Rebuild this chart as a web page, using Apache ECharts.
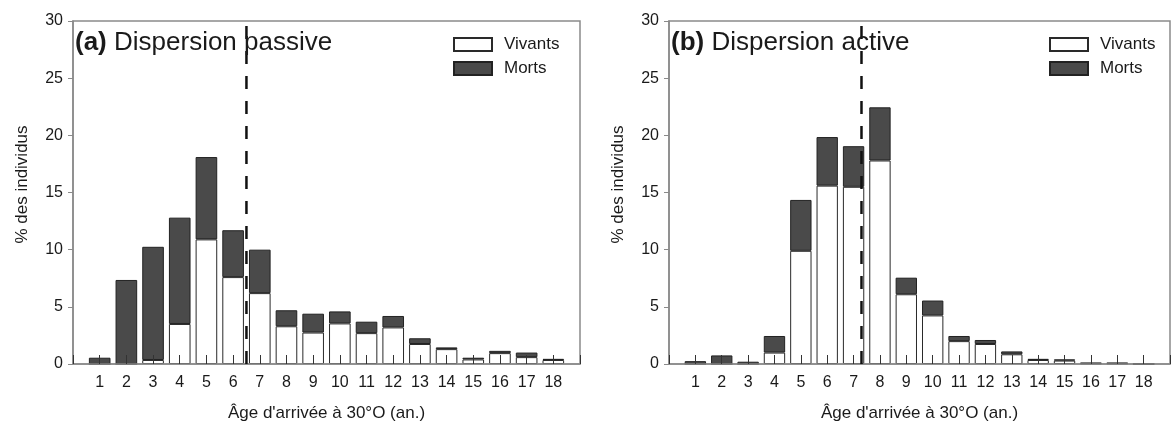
<!DOCTYPE html>
<html>
<head>
<meta charset="utf-8">
<script src="https://cdn.jsdelivr.net/npm/echarts@6/dist/echarts.min.js"></script>
<style>
  html, body { margin: 0; padding: 0; background: #fff; }
  #chart { width: 1173px; height: 427px; }
</style>
</head>
<body>
<div id="chart"></div>
<script>
// Age at arrival (years) on the 30°W line
const ages = [1, 2, 3, 4, 5, 6, 7, 8, 9, 10, 11, 12, 13, 14, 15, 16, 17, 18];

// (a) passive dispersal: % of individuals alive / dead
const vivantsA = [0, 0, 0.35, 3.5, 10.9, 7.6, 6.2, 3.3, 2.75, 3.55, 2.7, 3.2, 1.75, 1.3, 0.4, 0.95, 0.6, 0.35];
const mortsA   = [0.55, 7.35, 9.9, 9.3, 7.2, 4.1, 3.8, 1.4, 1.65, 1.05, 1.0, 1.0, 0.5, 0.15, 0.15, 0.2, 0.4, 0.1];

// (b) active dispersal
const vivantsB = [0, 0, 0, 1.0, 9.9, 15.6, 15.5, 17.8, 6.1, 4.25, 2.0, 1.75, 0.85, 0.35, 0.3, 0.05, 0.05, 0];
const mortsB   = [0.25, 0.75, 0.2, 1.45, 4.45, 4.25, 3.55, 4.65, 1.45, 1.3, 0.45, 0.35, 0.25, 0.1, 0.1, 0.05, 0.05, 0];

// Mean age thresholds (dashed lines)
const seuilA = 6.5;
const seuilB = 7.3;

const yTicks = [0, 5, 10, 15, 20, 25, 30];
const titres = ['Dispersion passive', 'Dispersion active'];
const lettres = ['(a)', '(b)'];
const nomX = "Âge d'arrivée à 30°O (an.)";
const nomY = '% des individus';

const FONT = '"Liberation Sans", Arial, sans-serif';
const INK = '#1a1a1a';
const FRAME = '#8a8a8a';

const grids = [
  { left: 73, top: 21, width: 507, height: 343 },
  { left: 669, top: 21, width: 507, height: 343 }
];

// Axis runs from 0 to 19 with an empty slot at each end
const xMin = 0, xMax = ages[ages.length - 1] + 1;
const cats = [String(xMin)].concat(ages.map(String), [String(xMax)]);
function padded(vals) { return [null].concat(vals, [null]); }

const yMax = yTicks[yTicks.length - 1];

const xAxes = [];
grids.forEach((g, i) => {
  // visible category axis carrying the bars
  xAxes.push({
    gridIndex: i, type: 'category', data: cats, boundaryGap: false, z: 3,
    name: nomX, nameLocation: 'middle', nameGap: 41,
    nameTextStyle: { fontFamily: FONT, fontSize: 17, color: INK },
    axisLine: { show: true, lineStyle: { color: FRAME, width: 1.5 } },
    axisTick: { show: true, inside: true, length: 9, interval: 0, lineStyle: { color: '#333', width: 1 } },
    axisLabel: {
      margin: 11, fontFamily: FONT, fontSize: 16, color: INK, interval: 0,
      formatter: v => (ages.indexOf(Number(v)) >= 0 ? v : '')
    },
    splitLine: { show: false }
  });
});
grids.forEach((g, i) => {
  // hidden numeric twin of the same span, used for the threshold line
  xAxes.push({
    gridIndex: i, type: 'value', min: xMin, max: xMax, show: false,
    splitLine: { show: false }
  });
});

const yAxes = grids.map((g, i) => ({
  gridIndex: i, type: 'value', min: yTicks[0], max: yMax, interval: 5,
  name: nomY, nameLocation: 'middle', nameGap: 42, nameRotate: 90,
  nameTextStyle: { fontFamily: FONT, fontSize: 17, color: INK, padding: [0, 0, 0, 16] },
  axisLine: { show: true, lineStyle: { color: FRAME, width: 1.5 } },
  axisTick: { show: true, inside: false, length: 5, lineStyle: { color: FRAME } },
  axisLabel: { margin: 10, fontFamily: FONT, fontSize: 16, color: INK },
  splitLine: { show: false }
}));

const vivStyle = { color: '#ffffff', borderColor: '#2a2a2a', borderWidth: 1 };
const mortStyle = { color: '#4a4a4a', borderColor: '#222222', borderWidth: 1 };

function panelSeries(idx, viv, morts) {
  return [
    {
      name: 'Vivants', type: 'bar', xAxisIndex: idx, yAxisIndex: idx,
      stack: 's' + idx, barWidth: '81%', data: padded(viv), itemStyle: vivStyle,
      emphasis: { disabled: true }
    },
    {
      name: 'Morts', type: 'bar', xAxisIndex: idx, yAxisIndex: idx,
      stack: 's' + idx, barWidth: '81%', data: padded(morts), itemStyle: mortStyle,
      emphasis: { disabled: true }
    }
  ];
}

function seuilSeries(idx, seuil) {
  return {
    type: 'line', xAxisIndex: grids.length + idx, yAxisIndex: idx, z: 4,
    data: [[seuil, yTicks[0]], [seuil, yMax]],
    symbol: 'none', silent: true,
    lineStyle: { type: [13, 12], color: '#111', width: 2.5 }
  };
}

const chart = echarts.init(document.getElementById('chart'), null, { renderer: 'canvas' });

chart.setOption({
  animation: false,
  backgroundColor: '#fff',
  textStyle: { fontFamily: FONT },
  title: grids.map((g, i) => ({
    text: '{b|' + lettres[i] + '} ' + titres[i],
    left: g.left + 2, top: g.top + 9, padding: 0,
    textStyle: {
      fontFamily: FONT, fontSize: 26, fontWeight: 'normal', color: INK,
      rich: { b: { fontFamily: FONT, fontSize: 26, fontWeight: 'bold', color: INK } }
    }
  })),
  legend: grids.map((g, i) => ({
    left: g.left + 380, top: g.top + 15, orient: 'vertical', padding: 0,
    itemWidth: 38, itemHeight: 13, itemGap: 7, icon: 'rect',
    textStyle: { fontFamily: FONT, fontSize: 17, color: INK, padding: [0, 0, 0, 7] },
    data: ['Vivants', 'Morts'],
    seriesIndex: [2 * i, 2 * i + 1]
  })),
  grid: grids.map(g => Object.assign({ show: true, borderColor: FRAME, borderWidth: 1.5, backgroundColor: 'transparent' }, g)),
  xAxis: xAxes,
  yAxis: yAxes,
  series: [].concat(
    panelSeries(0, vivantsA, mortsA),
    panelSeries(1, vivantsB, mortsB),
    [seuilSeries(0, seuilA), seuilSeries(1, seuilB)]
  )
});
</script>
</body>
</html>
